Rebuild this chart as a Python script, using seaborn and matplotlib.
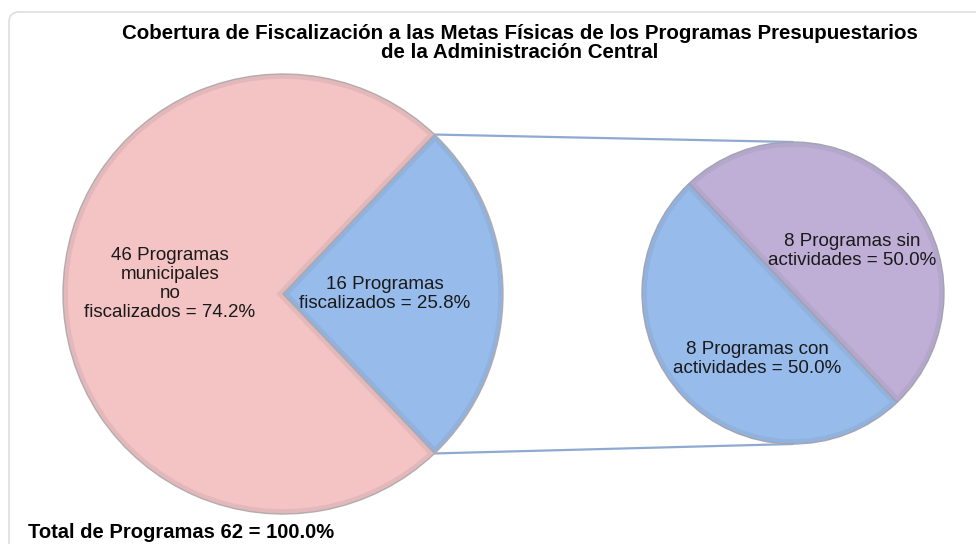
import numpy as np
import seaborn as sns
import matplotlib.pyplot as plt
from matplotlib.patches import FancyBboxPatch, PathPatch

# Datos
total = 62
main_values = [16, 46]
main_labels = ["16 Programas\nfiscalizados = 25.8%",
               "46 Programas\nmunicipales\nno\nfiscalizados = 74.2%"]
sub_values = [8, 8]
sub_labels = ["8 Programas sin\nactividades = 50.0%",
              "8 Programas con\nactividades = 50.0%"]
main_colors = ["#97BCEC", "#F4C3C3"]
sub_colors = ["#BFAFD6", "#97BCEC"]
title = ("Cobertura de Fiscalización a las Metas Físicas de los Programas Presupuestarios\n"
         "de la Administración Central")
footer = "Total de Programas 62 = 100.0%"

sns.set_theme(style="white")
plt.rcParams['font.family'] = ['Liberation Sans', 'DejaVu Sans']

W, H = 976, 544
fig = plt.figure(figsize=(W / 100, H / 100), dpi=100)
ax = fig.add_axes([0, 0, 1, 1])

# marco
ax.add_patch(FancyBboxPatch((9, -40), 1000, H - 12 + 40, boxstyle="round,pad=0,rounding_size=10",
                            fc="none", ec="#dedede", lw=1.2))

# pastel principal
c1, r1 = (283, 250), 220
start = -0.5 * main_values[0] / total * 360
wedges1, _ = ax.pie(main_values, colors=main_colors, startangle=start, center=c1, radius=r1,
                    wedgeprops=dict(edgecolor="#b9b0b0", linewidth=1.0), frame=True)

# pastel secundario
c2, r2 = (793, 251), 151
wedges2, _ = ax.pie(sub_values, colors=sub_colors, startangle=start, center=c2, radius=r2,
                    wedgeprops=dict(edgecolor="#a8a8b8", linewidth=1.0), frame=True)

# sombra interior (efecto bisel)
for w in list(wedges1) + list(wedges2):
    sh = PathPatch(w.get_path(), fc="none", ec="#6f6f80", lw=7, alpha=0.12,
                   transform=ax.transData, zorder=w.get_zorder() + 0.1)
    ax.add_patch(sh)
    sh.set_clip_path(w)

ax.set_xlim(0, W)
ax.set_ylim(0, H)
ax.set_aspect("equal")
ax.axis("off")

# líneas de conexión
th = np.deg2rad(-start)
for s in (1, -1):
    p1 = (c1[0] + r1 * np.cos(th), c1[1] + s * r1 * np.sin(th))
    p2 = (c2[0], c2[1] + s * r2)
    ax.plot([p1[0], p2[0]], [p1[1], p2[1]], color="#8eaad2", lw=1.6, zorder=0)

# etiquetas
fs = 13.5
kw = dict(ha="center", va="center", fontsize=fs, linespacing=1.15, color="#1a1a1a")
ax.text(385, 250, main_labels[0], **kw)
ax.text(170, 260, main_labels[1], **kw)
ax.text(852, 293, sub_labels[0], **kw)
ax.text(757, 185, sub_labels[1], **kw)

ax.text(520, 501, title, ha="center", va="center", fontsize=14.8, fontweight="bold",
        linespacing=1.0, color="black")
ax.text(28, 12, footer, ha="left", va="center", fontsize=14.5, fontweight="bold", color="black")

fig.savefig("out.png", dpi=100)
